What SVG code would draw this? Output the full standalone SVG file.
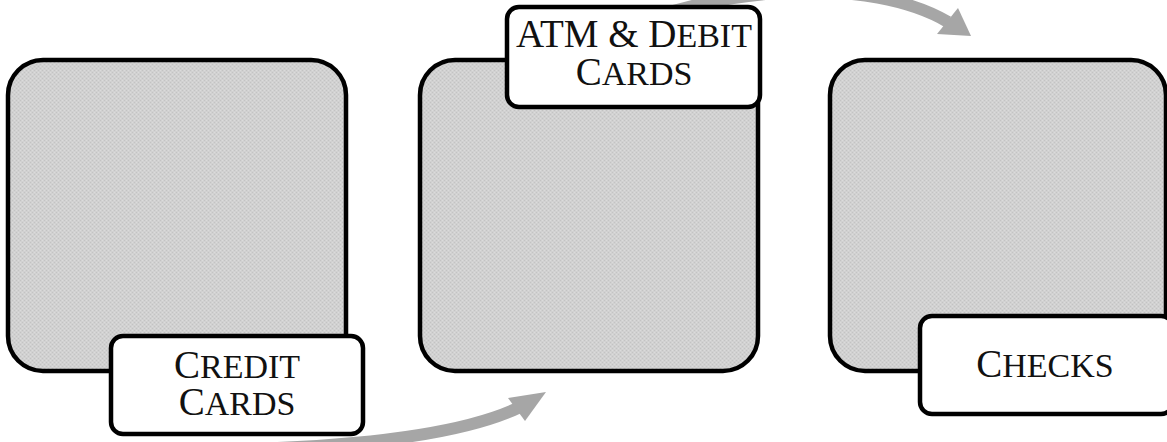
<svg xmlns="http://www.w3.org/2000/svg" width="1167" height="442" viewBox="0 0 1167 442">
  <defs>
    <pattern id="tex" patternUnits="userSpaceOnUse" width="4" height="4">
      <rect width="4" height="4" fill="#d1d1d1"/>
      <rect x="0" y="0" width="1" height="1" fill="#c3c3c3"/>
      <rect x="2" y="2" width="1" height="1" fill="#c3c3c3"/>
      <rect x="2" y="0" width="1" height="1" fill="#dbdbdb"/>
      <rect x="0" y="2" width="1" height="1" fill="#dbdbdb"/>
    </pattern>
    <style>
      .box { fill: url(#tex); stroke: #000; stroke-width: 4.5; }
      .lbl { fill: #fff; stroke: #000; stroke-width: 4.5; }
      .arrow { fill: none; stroke: #a6a6a6; stroke-width: 12; }
      .head { fill: #a6a6a6; }
      .t { font-family: "Liberation Serif", "Times New Roman", serif; fill: #111; text-anchor: middle; }
      .big { font-size: 39px; }
      .sc { font-size: 48px; font-variant: small-caps; }
    </style>
  </defs>

  <g id="connectors">
    <path class="arrow" d="M 250 449 C 350 446 460 436 520 407"/>
    <polygon class="head" points="546,392 508,398 525,421"/>
    <path class="arrow" d="M 620 30 C 720 -14 870 -24 948 22"/>
    <polygon class="head" points="971,36 958,8 937,34"/>
  </g>

  <g id="node-credit">
    <rect class="box" x="8" y="60" width="338" height="311" rx="35" ry="35"/>
    <rect class="lbl" x="111" y="336" width="252" height="98" rx="12" ry="12"/>
    <text class="t" x="237" y="378"><tspan class="big">C</tspan><tspan class="sc">redit</tspan></text>
    <text class="t" x="237" y="415"><tspan class="big">C</tspan><tspan class="sc">ards</tspan></text>
  </g>

  <g id="node-atm">
    <rect class="box" x="420" y="60" width="338" height="311" rx="35" ry="35"/>
    <rect class="lbl" x="507" y="7" width="253" height="100" rx="12" ry="12"/>
    <text class="t" x="634" y="47"><tspan class="big">ATM &amp; D</tspan><tspan class="sc">ebit</tspan></text>
    <text class="t" x="634" y="85"><tspan class="big">C</tspan><tspan class="sc">ards</tspan></text>
  </g>

  <g id="node-checks">
    <rect class="box" x="830" y="60" width="336" height="311" rx="35" ry="35"/>
    <rect class="lbl" x="920" y="316" width="253" height="98" rx="12" ry="12"/>
    <text class="t" x="1045" y="377"><tspan class="big">C</tspan><tspan class="sc">hecks</tspan></text>
  </g>
</svg>
